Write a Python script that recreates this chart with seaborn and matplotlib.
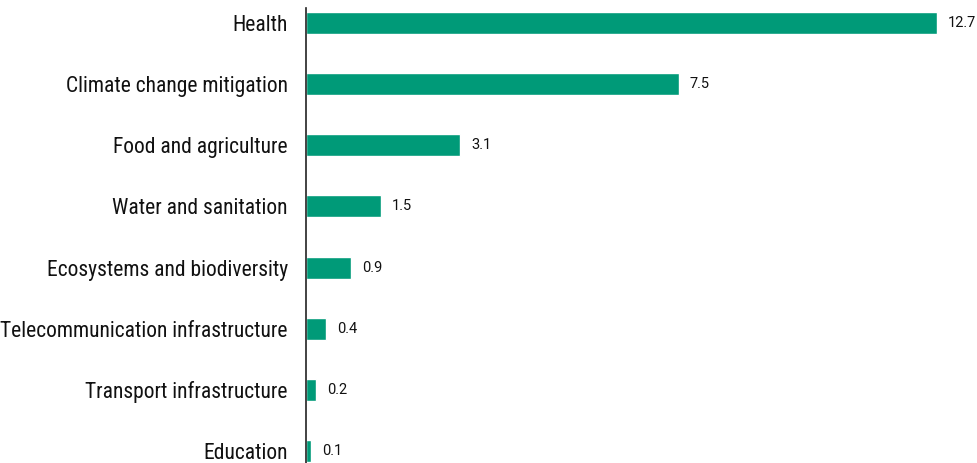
import matplotlib
matplotlib.use("Agg")
import matplotlib.pyplot as plt
import seaborn as sns
import pandas as pd

categories = ["Health", "Climate change mitigation", "Food and agriculture",
              "Water and sanitation", "Ecosystems and biodiversity",
              "Telecommunication infrastructure", "Transport infrastructure", "Education"]
values = [12.7, 7.5, 3.1, 1.5, 0.9, 0.4, 0.2, 0.1]
value_labels = ["12.7", "7.5", "3.1", "1.5", "0.9", "0.4", "0.2", "0.1"]

sns.set_theme(style="white")
plt.rcParams['font.family'] = ['Roboto Condensed', 'DejaVu Sans']

df = pd.DataFrame({"category": categories, "value": values})

fig = plt.figure(figsize=(9.77, 4.63), dpi=100)
ax = fig.add_axes([306/977, 0, 1 - 306/977, (463-8)/463])
sns.barplot(data=df, x="value", y="category", color="#009A78", width=0.36,
            saturation=1, ax=ax, orient="h")
ax.set_xlim(0, 13.5)
ax.set_ylim(7.2, -0.25)
ax.set_xlabel("")
ax.set_ylabel("")
ax.set_xticks([])
for s in ["top", "right", "bottom"]:
    ax.spines[s].set_visible(False)
ax.spines["left"].set_color("#222222")
ax.spines["left"].set_linewidth(1.2)
ax.tick_params(axis="y", length=0, pad=13, labelsize=15.5, labelcolor="#111111")
for lab in ax.get_yticklabels():
    lab.set_fontweight("normal")
for i, (v, lab) in enumerate(zip(values, value_labels)):
    ax.text(v + 0.22, i, lab, va="center", ha="left", fontsize=10.5, color="#111111",
            family=["Roboto", "DejaVu Sans"])

fig.savefig("out.png", dpi=100)
